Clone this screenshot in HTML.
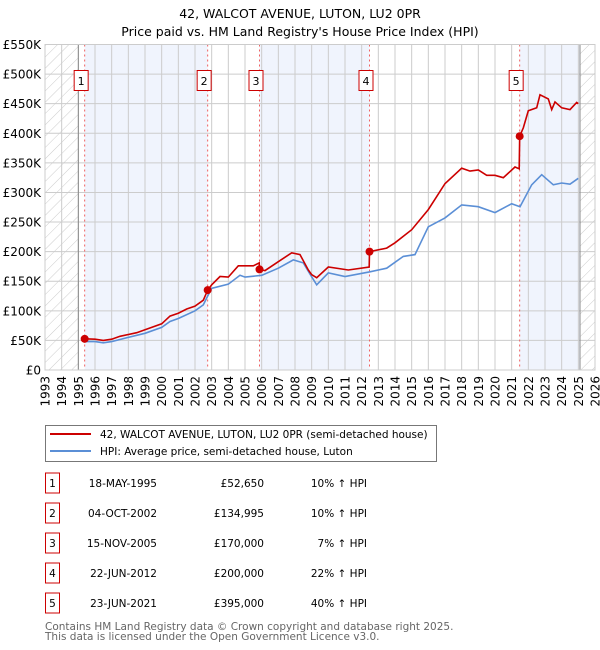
<!DOCTYPE html>
<html><head><meta charset="utf-8"><style>
body{margin:0;background:#fff;}
svg{display:block;font-family:"DejaVu Sans","Liberation Sans",sans-serif;}
</style></head><body>
<svg id="chart" width="600" height="650" viewBox="0 0 600 650">
<defs><pattern id="hatch" width="8" height="8" patternUnits="userSpaceOnUse" patternTransform="rotate(45)"><line x1="0" y1="0" x2="0" y2="8" stroke="#ccc" stroke-width="1"/></pattern></defs>
<text x="300" y="18" text-anchor="middle" font-size="12.5">42, WALCOT AVENUE, LUTON, LU2 0PR</text>
<text x="300" y="36" text-anchor="middle" font-size="12.5">Price paid vs. HM Land Registry's House Price Index (HPI)</text>
<g id="plot"></g>
<g>
<rect x="45.5" y="425.5" width="391" height="36" fill="#fff" stroke="#777"/>
<line x1="50" y1="434" x2="91" y2="434" stroke="#cc0000" stroke-width="2"/>
<text x="100" y="438" font-size="10.5">42, WALCOT AVENUE, LUTON, LU2 0PR (semi-detached house)</text>
<line x1="50" y1="451" x2="91" y2="451" stroke="#5b8fd6" stroke-width="2"/>
<text x="100" y="455" font-size="10.5">HPI: Average price, semi-detached house, Luton</text>
</g>
<g id="table" font-size="10.5"></g>
<text x="45" y="630" font-size="10.5" fill="#666">Contains HM Land Registry data © Crown copyright and database right 2025.</text>
<text x="45" y="640" font-size="10.5" fill="#666">This data is licensed under the Open Government Licence v3.0.</text>
</svg>
<script>
const yearTicks=[1993,1994,1995,1996,1997,1998,1999,2000,2001,2002,2003,2004,2005,2006,2007,2008,2009,2010,2011,2012,2013,2014,2015,2016,2017,2018,2019,2020,2021,2022,2023,2024,2025,2026];
const priceTicks=[0,50,100,150,200,250,300,350,400,450,500,550];
const priceTickLabels=["£0","£50K","£100K","£150K","£200K","£250K","£300K","£350K","£400K","£450K","£500K","£550K"];
const saleTimes=[1995.38,2002.76,2005.87,2012.47,2021.48];
const salePrices=[52.65,134.995,170,200,395];
const saleLabels=["1","2","3","4","5"];
const saleDates=["18-MAY-1995","04-OCT-2002","15-NOV-2005","22-JUN-2012","23-JUN-2021"];
const salePriceText=["£52,650","£134,995","£170,000","£200,000","£395,000"];
const saleHpiText=["10% \u2191 HPI","10% \u2191 HPI","7% \u2191 HPI","22% \u2191 HPI","40% \u2191 HPI"];
const hpiT=[1995.38,1996,1996.5,1997,1998,1999,2000,2000.5,2001,2002,2002.5,2002.76,2003,2004,2004.7,2005,2006,2007,2007.9,2008.5,2008.9,2009.3,2010,2011,2012.5,2013.5,2014.5,2015.2,2016,2017,2018,2019,2020,2021,2021.5,2022.2,2022.8,2023.5,2024,2024.5,2025];
const hpiV=[48,48,46,48,55,62,72,82,87,100,110,125,138,145,160,157,160,172,186,181,162,144,164,158,166,172,192,195,242,257,279,276,266,281,276,313,330,313,316,314,324];
const propT=[1995.38,1996,1996.5,1997,1997.5,1998.5,1999,2000,2000.5,2001,2001.5,2002,2002.5,2002.76,2003,2003.5,2004,2004.6,2005.5,2005.85,2005.87,2006.2,2007,2007.8,2008.3,2008.8,2009.0,2009.3,2010,2011.2,2012.45,2012.47,2013.5,2014,2015,2016,2016.5,2017,2018,2018.5,2019,2019.5,2020,2020.5,2021.2,2021.45,2021.48,2021.7,2022,2022.5,2022.7,2023.2,2023.4,2023.6,2024,2024.5,2024.9,2025];
const propV=[52.65,52,50,52,57,63,68,78,91,96,103,108,118,134.995,144,158,157,176,176,181,170,168,183,198,195,169,161,156,174,169,174,200,206,215,237,271,293,315,341,336,338,329,329,325,343,340,395,409,438,443,465,458,440,453,443,440,452,450];
const X0=45,X1=595,Y0=370,Y1=44.5;
const x=t=>X0+(t-1993)*(X1-X0)/33;
const y=v=>Y0-v*(Y0-Y1)/550;
const NS="http://www.w3.org/2000/svg";
function mk(tag,attrs,parent,txt){const e=document.createElementNS(NS,tag);for(const k in attrs)e.setAttribute(k,attrs[k]);if(txt!==undefined)e.textContent=txt;parent.appendChild(e);return e;}
const P=document.getElementById('plot');
const bandEdges=[saleTimes[0],saleTimes[1],saleTimes[2],saleTimes[3],saleTimes[4],2025.1];
for(let i=0;i<bandEdges.length-1;i+=2){
 const r=mk('rect',{x:x(bandEdges[i]),y:Y1,width:x(bandEdges[i+1])-x(bandEdges[i]),height:Y0-Y1,fill:'#f0f4fd'},P);
 
 
}
const h1=mk('rect',{x:X0,y:Y1,width:x(1995)-X0,height:Y0-Y1,fill:'url(#hatch)'},P);


const h2=mk('rect',{x:x(2025.1),y:Y1,width:X1-x(2025.1),height:Y0-Y1,fill:'url(#hatch)'},P);


yearTicks.forEach(t=>{
 const l=mk('line',{x1:x(t),x2:x(t),y1:Y1,y2:Y0,stroke:'#ccc','stroke-width':1},P);
 
 
 const tx=mk('text',{x:0,y:0,transform:`translate(${x(t)+4.5},${Y0+6}) rotate(-90)`,'text-anchor':'end','font-size':12},P,String(t));
 
 
});
priceTicks.forEach((v,i)=>{
 const l=mk('line',{x1:X0,x2:X1,y1:y(v),y2:y(v),stroke:'#ccc','stroke-width':1},P);
 
 
 const tx=mk('text',{x:X0-4,y:y(v)+4.5,'text-anchor':'end','font-size':12},P,priceTickLabels[i]);
 
 
});
const b1=mk('line',{x1:x(1995),x2:x(1995),y1:Y1,y2:Y0,stroke:'#888'},P);


const b2=mk('line',{x1:x(2025.1),x2:x(2025.1),y1:Y1,y2:Y0,stroke:'#888'},P);


saleTimes.forEach((t,i)=>{
 const l=mk('line',{x1:x(t),x2:x(t),y1:Y1,y2:Y0,stroke:'#f06060','stroke-dasharray':'2,3'},P);
 
 
 const r=mk('rect',{x:x(t)-10.5,y:70.5,width:14,height:20,fill:'#fff',stroke:'#cc0000'},P);
 
 
 const tx=mk('text',{x:x(t)-3.5,y:85,'text-anchor':'middle','font-size':11},P,saleLabels[i]);
 
 
});
const ln=(T,V)=>T.map((t,i)=>(i?'L':'M')+x(t).toFixed(1)+','+y(V[i]).toFixed(1)).join('');
const hp=mk('path',{d:ln(hpiT,hpiV),fill:'none',stroke:'#5b8fd6','stroke-width':1.6},P);


const pp=mk('path',{d:ln(propT,propV),fill:'none',stroke:'#cc0000','stroke-width':1.6},P);


saleTimes.forEach((t,i)=>{
 const c=mk('circle',{cx:x(t),cy:y(salePrices[i]),r:4,fill:'#cc0000'},P);
 
 
});
mk('rect',{x:X0,y:Y1,width:X1-X0,height:Y0-Y1,fill:'none',stroke:'#ccc'},P);
const T=document.getElementById('table');
saleDates.forEach((d,i)=>{
 const cy=483+i*30;
 const r=mk('rect',{x:45.5,y:cy-10,width:14,height:20,fill:'#fff',stroke:'#cc0000'},T);
 
 
 const a=mk('text',{x:52.5,y:cy+4,'text-anchor':'middle'},T,saleLabels[i]);
 
 
 const b=mk('text',{x:157,y:cy+4,'text-anchor':'end'},T,d);
 
 
 const c=mk('text',{x:264,y:cy+4,'text-anchor':'end'},T,salePriceText[i]);
 
 
 const e=mk('text',{x:367,y:cy+4,'text-anchor':'end'},T,saleHpiText[i]);
 
 
});
</script>
</body></html>
